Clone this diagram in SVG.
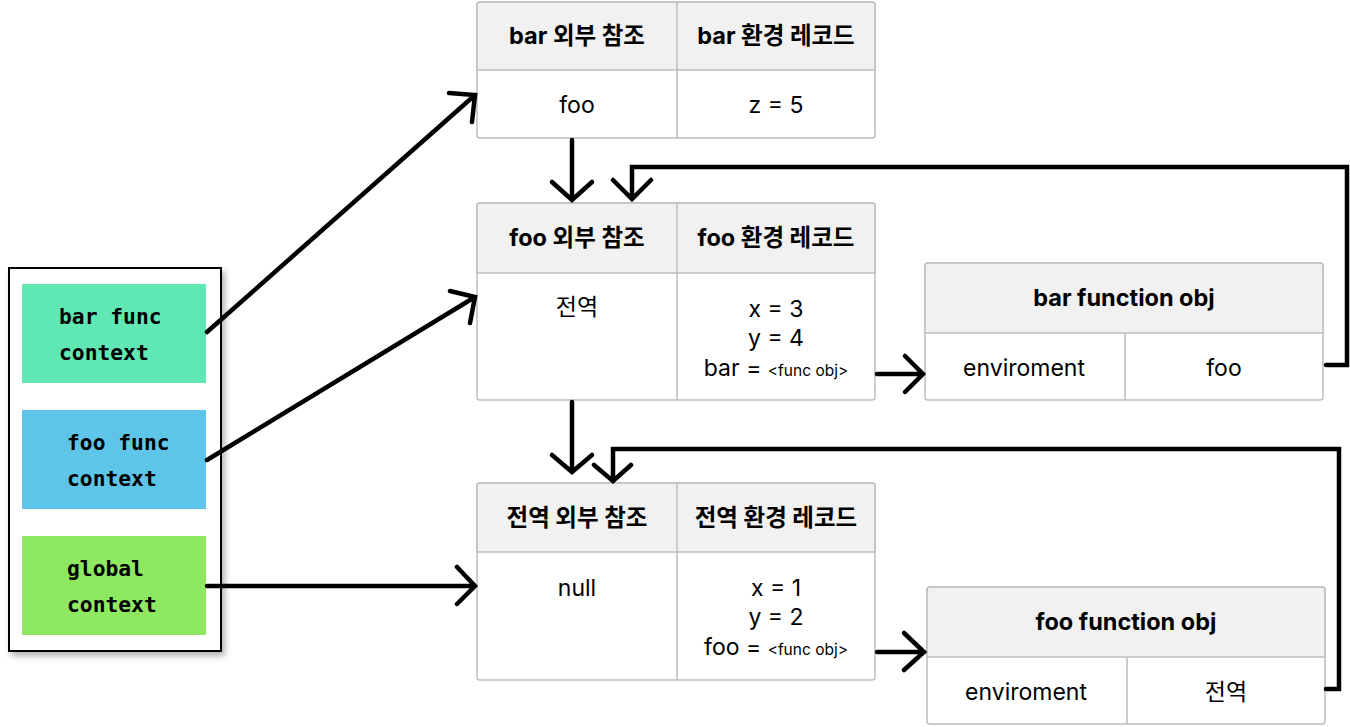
<svg xmlns="http://www.w3.org/2000/svg" width="1350" height="727" viewBox="0 0 1350 727">
<defs>
<filter id="sh" x="-10%" y="-10%" width="130%" height="130%">
<feDropShadow dx="3" dy="4" stdDeviation="3" flood-color="#000" flood-opacity="0.3"/>
</filter>
<style>
.cell{fill:#ffffff;stroke:#bdbdbd;stroke-width:1.5}
.head{fill:#f1f1f1;stroke:#bdbdbd;stroke-width:1.5}
.div{stroke:#bdbdbd;stroke-width:1.5;fill:none}
.ht{font-family:Inter,"Noto Sans CJK KR",sans-serif;font-weight:bold;font-size:23.5px;fill:#000;text-anchor:middle}
.bt{font-family:Inter,"Noto Sans CJK KR",sans-serif;font-size:23px;fill:#000;text-anchor:middle}
.sm{font-size:15.5px}
.ct{font-family:"DejaVu Sans Mono",monospace;font-weight:bold;font-size:21.3px;fill:#000}
.ln{stroke:#000;stroke-width:4.5;fill:none;stroke-linecap:round;stroke-linejoin:miter}
</style>
</defs>

<g id="contexts">
<rect x="9" y="268" width="212" height="383" fill="#fff" stroke="#000" stroke-width="2" filter="url(#sh)"/>
</g>
<g id="bar-ctx">
<rect x="22" y="284" width="184" height="99" fill="#60e8b4"/>
<text class="ct" x="59" y="324">bar func</text>
<text class="ct" x="59" y="360">context</text>
</g>
<g id="foo-ctx">
<rect x="22" y="410" width="184" height="99" fill="#5ec5e8"/>
<text class="ct" x="67" y="450">foo func</text>
<text class="ct" x="67" y="486">context</text>
</g>
<g id="global-ctx">
<rect x="22" y="536" width="184" height="99" fill="#8ee860"/>
<text class="ct" x="67" y="576">global</text>
<text class="ct" x="67" y="612">context</text>
</g>

<g id="bar-env">
<rect class="cell" x="477" y="2" width="398" height="136" rx="3"/>
<path class="head" d="M477,70 V5 a3,3 0 0 1 3,-3 H872 a3,3 0 0 1 3,3 V70 Z"/>
<path class="div" d="M677,2 V138"/>
<text class="ht" x="577" y="44">bar 외부 참조</text>
<text class="ht" x="776" y="44">bar 환경 레코드</text>
<text class="bt" x="577" y="113">foo</text>
<text class="bt" x="776" y="113">z = 5</text>
</g>

<g id="foo-env">
<rect class="cell" x="477" y="203" width="398" height="197" rx="3"/>
<path class="head" d="M477,273 V206 a3,3 0 0 1 3,-3 H872 a3,3 0 0 1 3,3 V273 Z"/>
<path class="div" d="M677,203 V400"/>
<text class="ht" x="577" y="246">foo 외부 참조</text>
<text class="ht" x="776" y="246">foo 환경 레코드</text>
<text class="bt" x="577" y="315">전역</text>
<text class="bt" x="776" y="317">x = 3</text>
<text class="bt" x="776" y="346">y = 4</text>
<text class="bt" x="776" y="376">bar = <tspan class="sm">&lt;func obj&gt;</tspan></text>
</g>

<g id="global-env">
<rect class="cell" x="477" y="483" width="398" height="197" rx="3"/>
<path class="head" d="M477,552 V486 a3,3 0 0 1 3,-3 H872 a3,3 0 0 1 3,3 V552 Z"/>
<path class="div" d="M677,483 V680"/>
<text class="ht" x="577" y="526">전역 외부 참조</text>
<text class="ht" x="776" y="526">전역 환경 레코드</text>
<text class="bt" x="577" y="596">null</text>
<text class="bt" x="776" y="596">x = 1</text>
<text class="bt" x="776" y="625">y = 2</text>
<text class="bt" x="776" y="655">foo = <tspan class="sm">&lt;func obj&gt;</tspan></text>
</g>

<g id="bar-func-obj">
<rect class="cell" x="925" y="263" width="398" height="137" rx="3"/>
<path class="head" d="M925,333 V266 a3,3 0 0 1 3,-3 H1320 a3,3 0 0 1 3,3 V333 Z"/>
<path class="div" d="M1125,333 V400"/>
<text class="ht" x="1124" y="306">bar function obj</text>
<text class="bt" x="1024" y="376">enviroment</text>
<text class="bt" x="1224" y="376">foo</text>
</g>

<g id="foo-func-obj">
<rect class="cell" x="927" y="587" width="398" height="137" rx="3"/>
<path class="head" d="M927,657 V590 a3,3 0 0 1 3,-3 H1322 a3,3 0 0 1 3,3 V657 Z"/>
<path class="div" d="M1127,657 V724"/>
<text class="ht" x="1126" y="630">foo function obj</text>
<text class="bt" x="1026" y="700">enviroment</text>
<text class="bt" x="1226" y="700">전역</text>
</g>

<g id="connectors">
<path class="ln" d="M207,332 L475,95 M449,93 L475,95 L472,122"/>
<path class="ln" d="M207,460 L475,297 M450,291 L475,297 L470,323"/>
<path class="ln" d="M207,586 L475,586 M457,567 L475,586 L457,604"/>
<path class="ln" d="M572,140 V200 M552,182 L572,200 L592,182"/>
<path class="ln" d="M1326,365 H1347 V167 H632 V199 M613,180 L632,199 L651,180"/>
<path class="ln" d="M572,402 V472 M552,455 L572,472 L592,455"/>
<path class="ln" d="M1326,689 H1339 V449 H613 V481 M594,465 L613,481 L631,465"/>
<path class="ln" d="M877,374 H923 M905,356 L923,374 L905,392"/>
<path class="ln" d="M877,652 H924 M904,633 L924,652 L904,670"/>
</g>
</svg>
